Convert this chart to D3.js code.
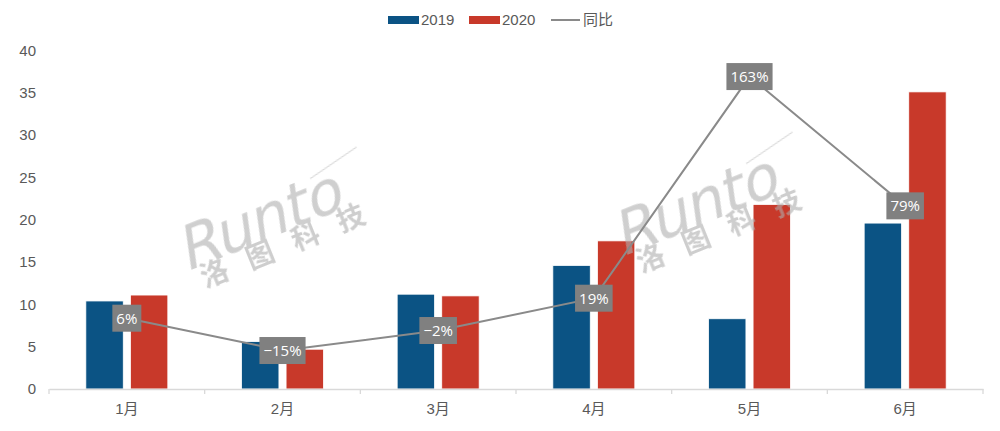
<!DOCTYPE html>
<html>
<head>
<meta charset="utf-8">
<script src="https://cdn.jsdelivr.net/npm/d3@7/dist/d3.min.js"></script>
<style>
  html, body { margin: 0; padding: 0; background: #fff; }
  svg { display: block; }
  text { font-family: "Liberation Sans", "Noto Sans CJK SC", sans-serif; }
</style>
</head>
<body>
<svg id="chart" width="1000" height="431"></svg>
<script>
const categories = ["1月", "2月", "3月", "4月", "5月", "6月"];
const series2019 = [10.4, 5.6, 11.2, 14.6, 8.3, 19.6];
const series2020 = [11.1, 4.7, 11.0, 17.5, 21.8, 35.1];
const growth = [6, -15, -2, 19, 163, 79];
const growthLabels = ["6%", "−15%", "−2%", "19%", "163%", "79%"];
const yTicks = [0, 5, 10, 15, 20, 25, 30, 35, 40];
const seriesNames = ["2019", "2020", "同比"];

const colors = { s2019: "#0b5384", s2020: "#c8392a", line: "#8a8a8a", label: "#808080", text: "#595959", axis: "#d9d9d9" };

const svg = d3.select("#chart");
const plotBottom = 389, plotTop = 50.4;

const x = d3.scaleBand().domain(categories).range([49, 983]).paddingInner(0).paddingOuter(0);
const y = d3.scaleLinear().domain([0, 40]).range([plotBottom, plotTop]);
const y2 = d3.scaleLinear().domain([-40, 180]).range([plotBottom, plotTop]);
const inner = d3.scaleBand().domain(["2019", "2020"]).range([-41, 41]).paddingInner(0.16).paddingOuter(0);

// y-axis tick labels
svg.append("g").selectAll("text").data(yTicks).join("text")
  .attr("x", 36).attr("y", d => y(d)).attr("dy", "0.36em")
  .attr("text-anchor", "end").attr("fill", colors.text)
  .style("font-size", "15px").text(d => d);

// bars
const groups = svg.append("g").selectAll("g").data(categories).join("g")
  .attr("transform", d => `translate(${x(d) + x.bandwidth() / 2},0)`);
groups.append("rect")
  .attr("x", inner("2019")).attr("width", inner.bandwidth())
  .attr("y", (d, i) => y(series2019[i])).attr("height", (d, i) => plotBottom - y(series2019[i]))
  .attr("fill", colors.s2019).attr("stroke", "#ffffff").attr("stroke-width", 0.8);
groups.append("rect")
  .attr("x", inner("2020")).attr("width", inner.bandwidth())
  .attr("y", (d, i) => y(series2020[i])).attr("height", (d, i) => plotBottom - y(series2020[i]))
  .attr("fill", colors.s2020).attr("stroke", "#ffffff").attr("stroke-width", 0.8);

// x axis
const xAxis = svg.append("g").attr("transform", `translate(0,${plotBottom})`)
  .call(d3.axisBottom(x).tickSize(0).tickPadding(14));
xAxis.select(".domain").attr("stroke", colors.axis).attr("stroke-width", 1.3);
xAxis.selectAll("text").attr("fill", colors.text).style("font-size", "15px")
  .style("font-family", "'Liberation Sans','Noto Sans CJK SC',sans-serif");
const bounds = [49].concat(categories.map(c => x(c) + x.bandwidth()));
xAxis.selectAll(".bnd").data(bounds).join("line").attr("class", "bnd")
  .attr("x1", d => d).attr("x2", d => d).attr("y1", 0).attr("y2", 5)
  .attr("stroke", colors.axis).attr("stroke-width", 1.3);

// watermarks (semi-transparent, over the bars)
const wm = svg.append("g").attr("opacity", 0.6);
[[186, 272], [622, 257]].forEach(([wx, wy]) => {
  const g = wm.append("g").attr("transform", `translate(${wx},${wy}) rotate(-22)`);
  g.append("text").attr("x", 0).attr("y", 0)
    .attr("transform", "skewX(-14)")
    .style("font-family", "'DejaVu Sans', sans-serif")
    .style("font-size", "60px")
    .attr("fill", "#b0b0b0")
    .attr("textLength", 172)
    .text("Runto");
  g.append("line").attr("x1", 150).attr("y1", -40).attr("x2", 205).attr("y2", -52)
    .attr("stroke", "#bdbdbd").attr("stroke-width", 1.2);
  g.append("text").attr("x", 12).attr("y", 22)
    .style("font-family", "'Noto Sans CJK SC', sans-serif")
    .style("font-size", "28px").style("font-weight", "bold")
    .attr("fill", "#adadad")
    .attr("letter-spacing", "21px")
    .text("洛图科技");
});

// growth line
const line = d3.line().x((d, i) => x(categories[i]) + x.bandwidth() / 2).y(d => y2(d));
svg.append("path").datum(growth).attr("d", line)
  .attr("fill", "none").attr("stroke", colors.line).attr("stroke-width", 2);

// growth labels
const lg = svg.append("g").selectAll("g").data(growth).join("g")
  .attr("transform", (d, i) => `translate(${x(categories[i]) + x.bandwidth() / 2},${y2(d)})`);
lg.each(function (d, i) {
  const g = d3.select(this);
  const t = g.append("text").attr("text-anchor", "middle").attr("dy", "0.36em")
    .attr("fill", "#ffffff").style("font-size", "15px")
    .style("font-family", "'Open Sans', 'Liberation Sans', sans-serif")
    .text(growthLabels[i]);
  const bb = t.node().getBBox();
  g.insert("rect", "text").attr("x", bb.x - 4).attr("y", -13.5)
    .attr("width", bb.width + 8).attr("height", 27).attr("fill", colors.label);
});

// legend
const leg = svg.append("g").attr("transform", "translate(0,20)");
leg.append("rect").attr("x", 388).attr("y", -4).attr("width", 31).attr("height", 8).attr("fill", colors.s2019);
leg.append("text").attr("x", 421).attr("y", 0).attr("dy", "0.36em").attr("fill", colors.text).style("font-size", "15px").text(seriesNames[0]);
leg.append("rect").attr("x", 469).attr("y", -4).attr("width", 31).attr("height", 8).attr("fill", colors.s2020);
leg.append("text").attr("x", 502).attr("y", 0).attr("dy", "0.36em").attr("fill", colors.text).style("font-size", "15px").text(seriesNames[1]);
leg.append("line").attr("x1", 551).attr("x2", 580).attr("y1", 0).attr("y2", 0).attr("stroke", colors.line).attr("stroke-width", 2);
leg.append("text").attr("x", 583).attr("y", 0).attr("dy", "0.36em").attr("fill", colors.text)
  .style("font-size", "15px").style("font-family", "'Noto Sans CJK SC', sans-serif").text(seriesNames[2]);
</script>
</body>
</html>
